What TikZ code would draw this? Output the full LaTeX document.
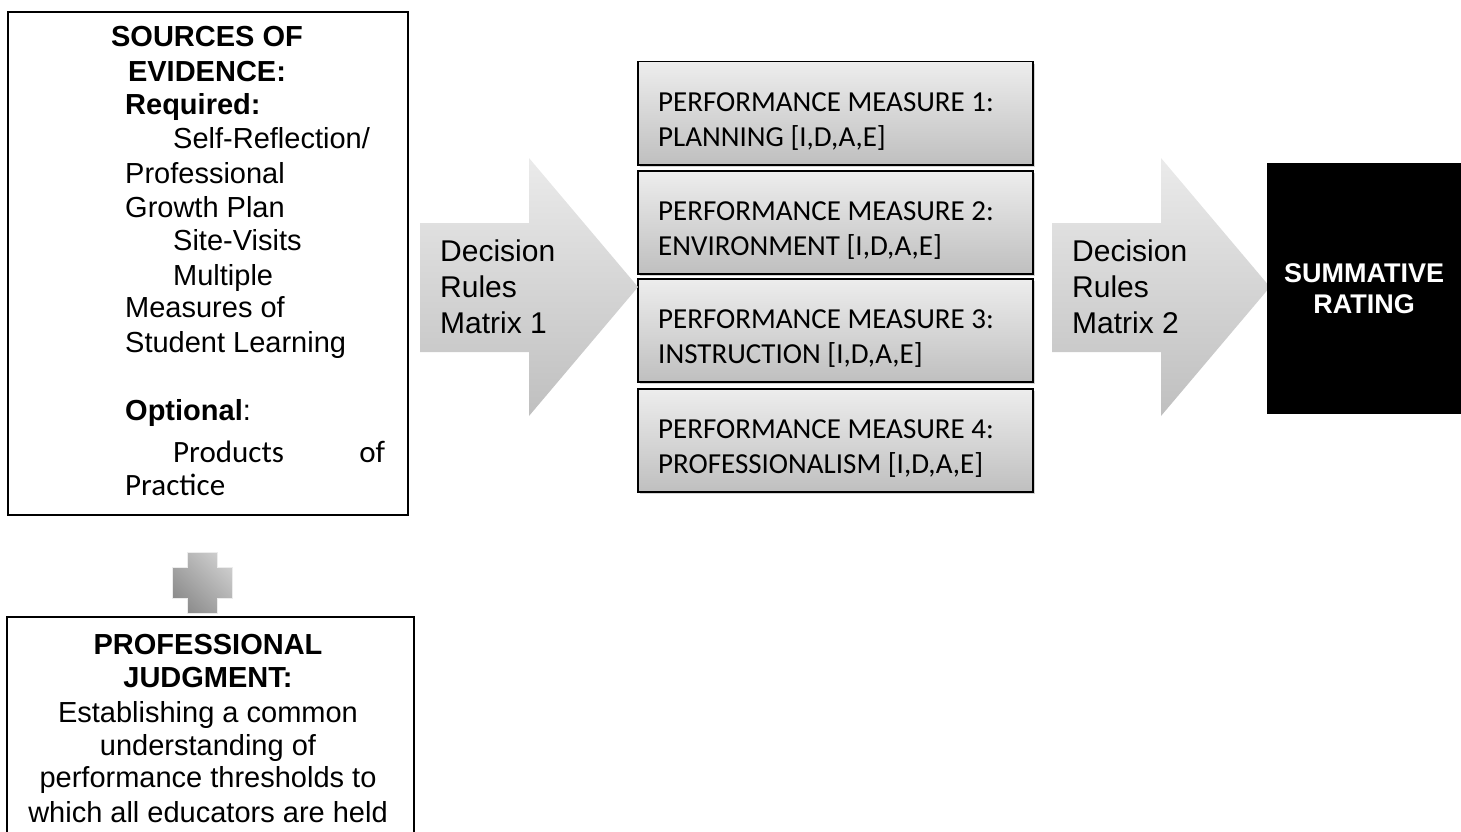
\documentclass[tikz,border=0pt]{standalone}
\usepackage{fontspec}
\setmainfont{Liberation Sans}
\newfontfamily\calibri{Carlito}
\usetikzlibrary{shadows}

\begin{document}
\begin{tikzpicture}[x=1pt, y=-1pt,
    frame box/.style={draw=black, line width=2pt, anchor=north west, inner sep=0pt},
    measure box/.style={draw=black, line width=1.5pt, anchor=north west, inner sep=0pt,
        minimum width=395pt, minimum height=103pt, top color=gray!14, bottom color=gray!50,
        drop shadow={shadow xshift=2.5pt, shadow yshift=-2.5pt, opacity=0.35}},
    measure text/.style={font=\calibri\fontsize{29}{35}\selectfont, anchor=west, align=left, inner sep=0pt},
    body text/.style={font=\fontsize{29}{34}\selectfont, anchor=base west, inner sep=0pt},
    head text/.style={font=\fontsize{29}{34}\selectfont\bfseries, anchor=base, inner sep=0pt},
    mid text/.style={font=\fontsize{29}{34}\selectfont, anchor=base, inner sep=0pt},
    cal text/.style={font=\calibri\fontsize{31}{36}\selectfont, anchor=base west, inner sep=0pt},
    arrow shade/.style={top color=gray!16, bottom color=gray!50},
    arrow text/.style={font=\fontsize{30}{36}\selectfont, anchor=west, align=left, inner sep=0pt},
    plus shade/.style={draw=gray!15, line width=0.6pt, top color=gray!40, bottom color=gray!90, shading angle=-45}
]

\clip (0,0) rectangle (1461,832);

% Sources of evidence
\node[frame box, minimum width=400pt, minimum height=503pt] (src) at (7,11) {};
\node[head text] (src1) at (207,47) {SOURCES OF};
\node[head text] (src2) at (207,82) {EVIDENCE:};
\node[body text, font=\fontsize{29}{34}\selectfont\bfseries] (src3) at (125,115) {Required:};
\node[body text] (src4) at (173,148) {Self-Reflection/};
\node[body text] (src5) at (125,183) {Professional};
\node[body text] (src6) at (125,217) {Growth Plan};
\node[body text] (src7) at (173,250) {Site-Visits};
\node[body text] (src8) at (173,285) {Multiple};
\node[body text] (src9) at (125,317) {Measures of};
\node[body text] (src10) at (125,352) {Student Learning};
\node[body text] (src11) at (125,420) {\textbf{Optional}:};
\node[cal text] (src12) at (173,462) {\makebox[212pt][s]{Products\hfill of}};
\node[cal text] (src13) at (125,495) {Practice};

% Plus sign
\shade[plus shade] (187,552) -- (217,552) -- (217,567) -- (232,567) -- (232,598) -- (217,598)
    -- (217,613) -- (187,613) -- (187,598) -- (172,598) -- (172,567) -- (187,567) -- cycle;

% Professional judgment
\node[frame box, minimum width=407pt, minimum height=240pt] (pj) at (6,616) {};
\node[head text] (pj1) at (208,654) {PROFESSIONAL};
\node[head text] (pj2) at (208,687) {JUDGMENT:};
\node[mid text] (pj3) at (208,722) {Establishing a common};
\node[mid text] (pj4) at (208,755) {understanding of};
\node[mid text] (pj5) at (208,787) {performance thresholds to};
\node[mid text] (pj6) at (208,822) {which all educators are held};

% Performance measures
\foreach \i/\yb/\name in {1/61/{PLANNING [I,D,A,E]}, 2/170/{ENVIRONMENT [I,D,A,E]},
                          3/278/{INSTRUCTION [I,D,A,E]}, 4/388/{PROFESSIONALISM [I,D,A,E]}} {
    \node[measure box] (m\i) at (637,\yb) {};
    \node[measure text] (m\i t) at (658,\yb+61) {PERFORMANCE MEASURE \i:\\\name};
}

% Decision rule arrows
\shade[arrow shade] (420,223) -- (529,223) -- (529,158) -- (638,287) -- (529,416) -- (529,352) -- (420,352) -- cycle;
\node[arrow text] (dr1) at (440,287) {Decision\\Rules\\Matrix 1};

\begin{scope}[shift={(632,0)}]
    \shade[arrow shade] (420,223) -- (529,223) -- (529,158) -- (638,287) -- (529,416) -- (529,352) -- (420,352) -- cycle;
    \node[arrow text] (dr2) at (440,287) {Decision\\Rules\\Matrix 2};
\end{scope}

% Summative rating
\node[fill=black, anchor=north west, minimum width=194pt, minimum height=251pt, inner sep=0pt,
      text=white, align=center, font=\fontsize{27}{31}\selectfont\bfseries] (rating) at (1267,163)
      {SUMMATIVE\\RATING};

\end{tikzpicture}
\end{document}
